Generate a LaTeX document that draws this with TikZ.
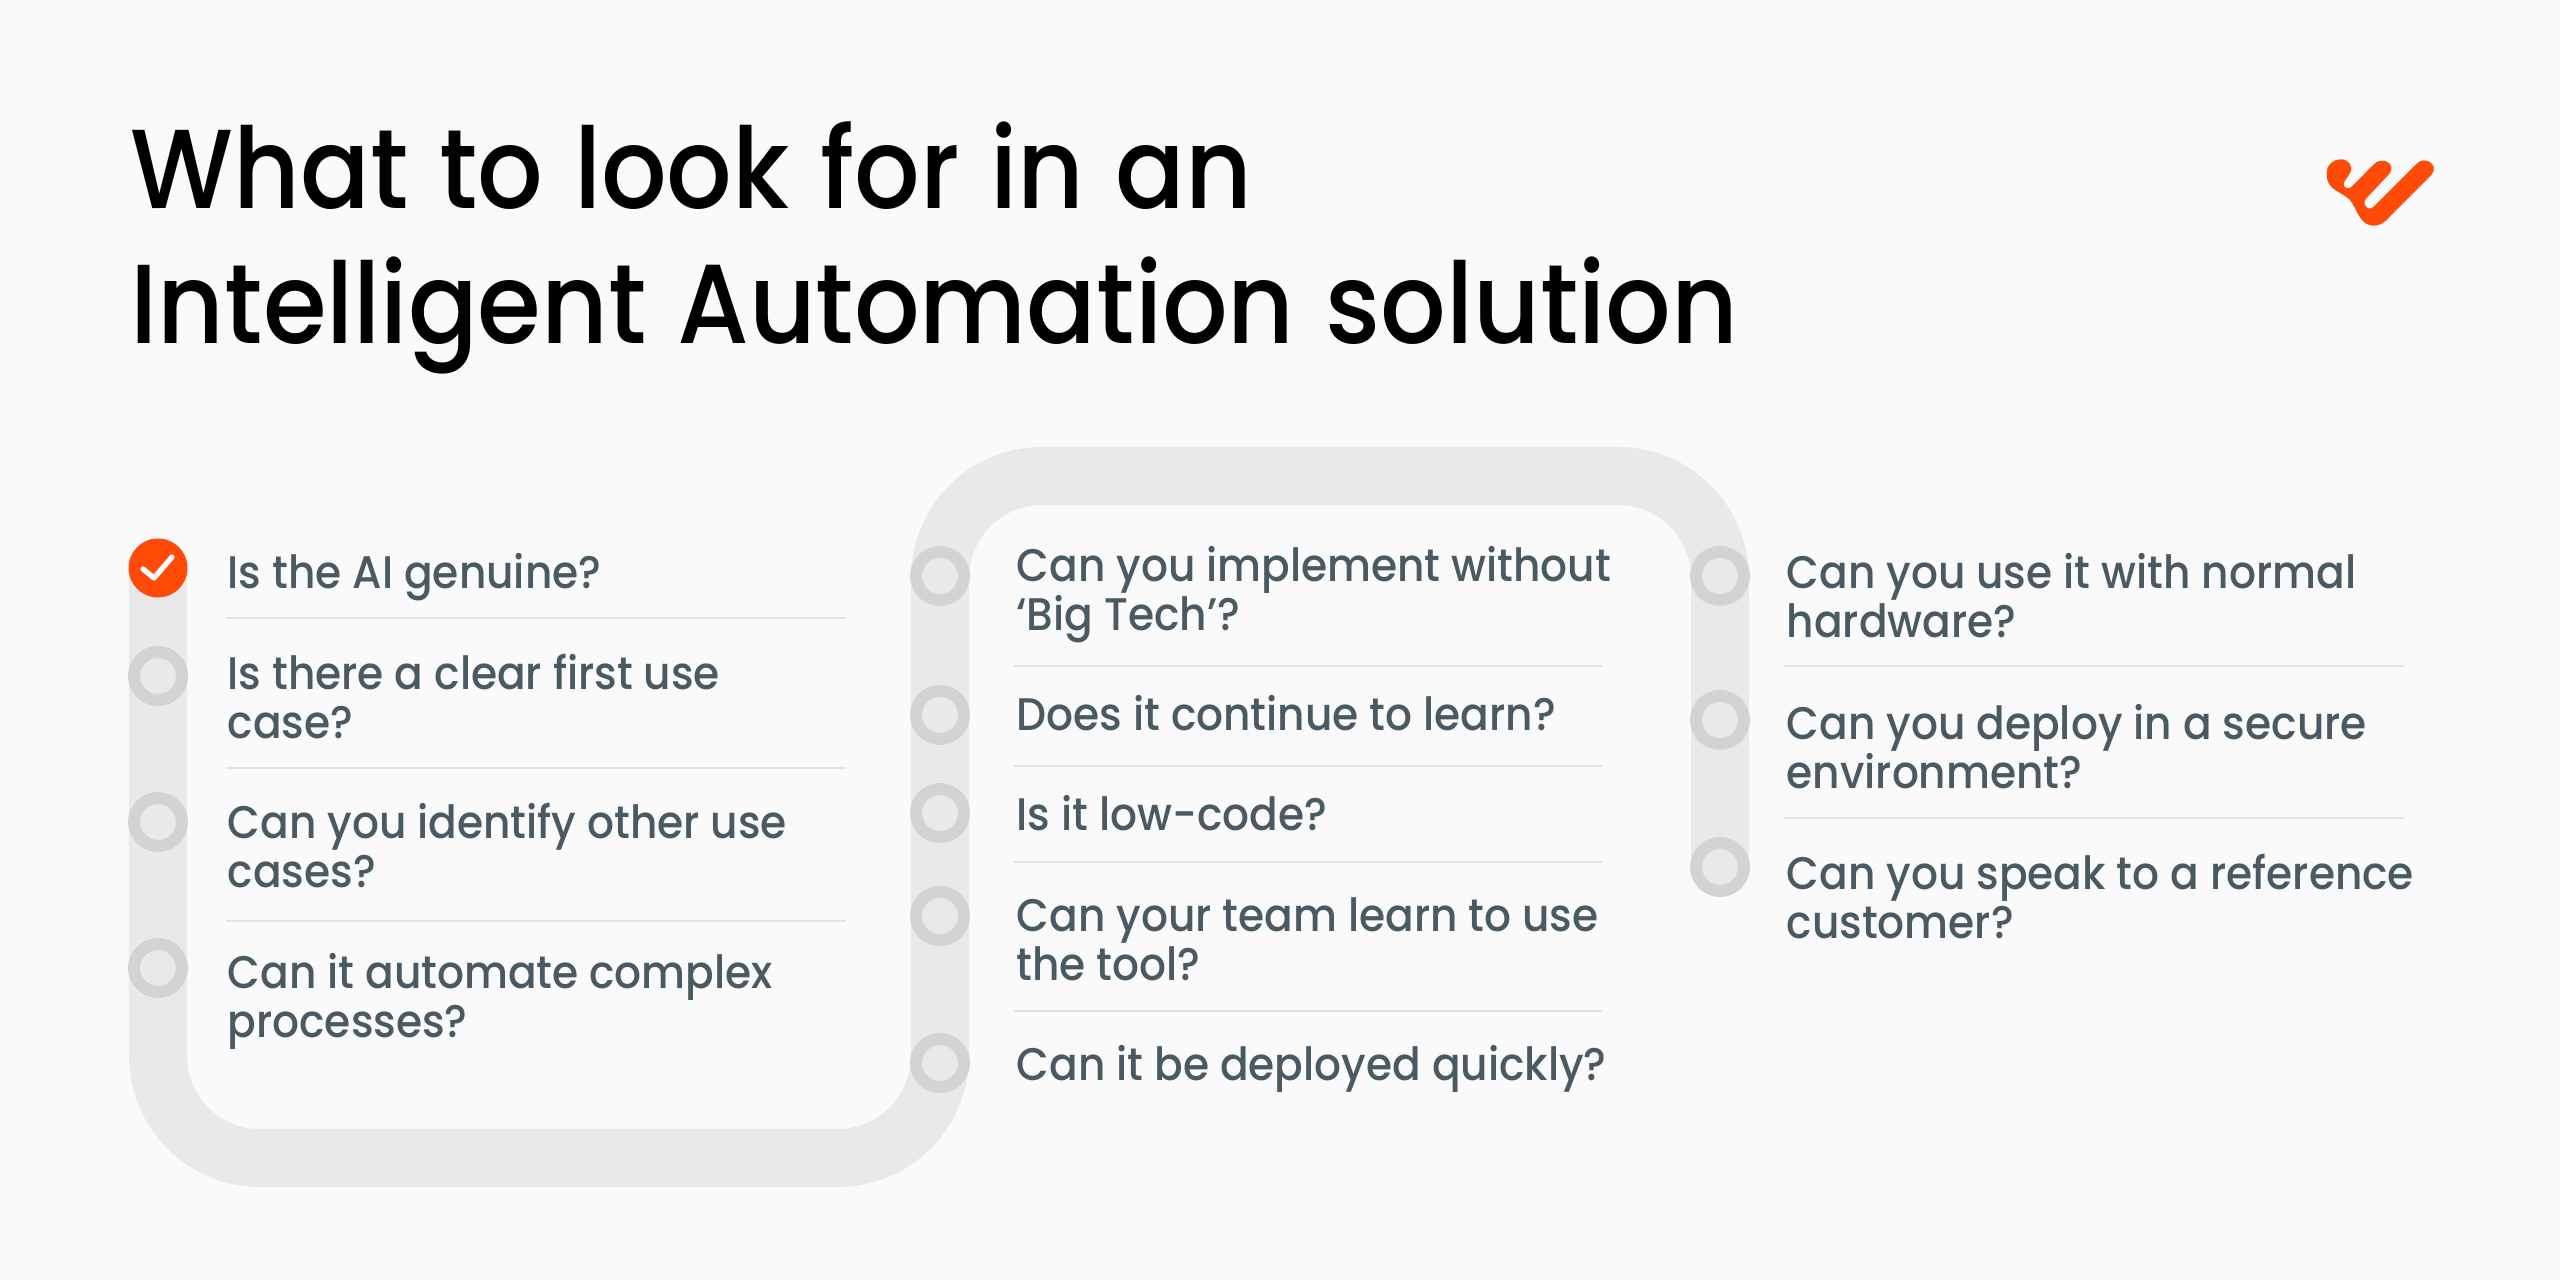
\documentclass[tikz,border=0pt]{standalone}
\usepackage{fontspec}
\setmainfont{Poppins}[UprightFont=* Medium,FakeStretch=0.925]
\newfontfamily\titlefont{Poppins}[UprightFont=* Medium,FakeStretch=0.915,WordSpace=1.15]
\usetikzlibrary{positioning}
\definecolor{pagebg}{HTML}{FAFAFA}
\definecolor{trackgray}{HTML}{E9E9E9}
\definecolor{ringgray}{HTML}{D1D3D5}
\definecolor{rulegray}{HTML}{E3E3E3}
\definecolor{textslate}{HTML}{4A5A63}
\definecolor{logoorange}{HTML}{FF4A08}
\tikzset{
  ring/.style={circle,draw=ringgray,line width=3.4pt,fill=trackgray,minimum size=48*0.01cm,inner sep=0pt},
  question/.style={anchor=base west,inner sep=0pt,text=textslate,align=left,font=\fontsize{13}{13.95}\selectfont},
  titleline/.style={anchor=base west,inner sep=0pt,text=black,font=\titlefont\fontsize{32}{37}\selectfont},
  sepline/.style={draw=rulegray,line width=0.55pt}
}
\begin{document}
\begin{tikzpicture}[line cap=round,line join=round,x=0.01cm,y=-0.01cm]
\useasboundingbox (0,0) rectangle (2560,1280);
\fill[pagebg] (0,0) rectangle (2560,1280);
% track
\coordinate (trackstart) at (158,568);
\coordinate (trackend) at (1720,867);
\draw[trackgray,line width=16.5pt,line cap=butt,rounded corners=102*0.01cm]
  (trackstart) -- (158,1158) -- (940,1158) -- (940,476) -- (1720,476) -- (trackend);
% title
\node[titleline] (title1) at (130,209) {What to look for in an};
\node[titleline] (title2) at (130,344) {Intelligent Automation solution};
% logo
\begin{scope}[shift={(2280,130)},x=0.00333cm,y=-0.00333cm]
\fill[logoorange] (140,130) .. controls (140,105) and (160,88) .. (182,88)
  .. controls (205,88) and (222,108) .. (210,130) -- (192,158)
  .. controls (187,172) and (205,182) .. (216,170) -- (282,103)
  .. controls (305,78) and (350,100) .. (330,130) -- (258,207)
  .. controls (245,225) and (265,247) .. (282,230) -- (410,102)
  .. controls (435,75) and (480,105) .. (455,135) -- (330,260)
  .. controls (300,298) and (260,295) .. (240,262)
  .. controls (220,230) and (220,212) .. (190,195)
  .. controls (155,175) and (140,165) .. (140,130) -- cycle;
\end{scope}
% rings, first column
\node[circle,fill=logoorange,minimum size=59*0.01cm,inner sep=0pt] (check1) at (158,568) {};
\draw[white,line width=1.5pt] (143,569) -- (154,578) -- (172,557);
\foreach \name/\y in {a2/676,a3/822,a4/968}
  \node[ring] (ring\name) at (158,\y) {};
\foreach \name/\y in {b1/576,b2/715,b3/813,b4/916,b5/1063}
  \node[ring] (ring\name) at (940,\y) {};
\foreach \name/\y in {c1/576,c2/720,c3/867}
  \node[ring] (ring\name) at (1720,\y) {};
% separators
\foreach \y in {618,768,921}
  \draw[sepline,line cap=butt] (226,\y) -- (846,\y);
\foreach \y in {666,766,862,1011}
  \draw[sepline,line cap=butt] (1014,\y) -- (1602,\y);
\foreach \y in {666,818}
  \draw[sepline,line cap=butt] (1784,\y) -- (2404,\y);
% questions
\node[question] (qa1) at (227,589) {Is the AI genuine?};
\node[question] (qa2) at (227,739) {Is there a clear first use\\case?};
\node[question] (qa3) at (227,888) {Can you identify other use\\cases?};
\node[question] (qa4) at (227,1038) {Can it automate complex\\processes?};
\node[question] (qb1) at (1016,631) {Can you implement without\\‘Big Tech’?};
\node[question] (qb2) at (1016,731) {Does it continue to learn?};
\node[question] (qb3) at (1016,831) {Is it low-code?};
\node[question] (qb4) at (1016,981) {Can your team learn to use\\the tool?};
\node[question] (qb5) at (1016,1081) {Can it be deployed quickly?};
\node[question] (qc1) at (1786,638) {Can you use it with normal\\hardware?};
\node[question] (qc2) at (1786,789) {Can you deploy in a secure\\environment?};
\node[question] (qc3) at (1786,939) {Can you speak to a reference\\customer?};
\end{tikzpicture}
\end{document}
